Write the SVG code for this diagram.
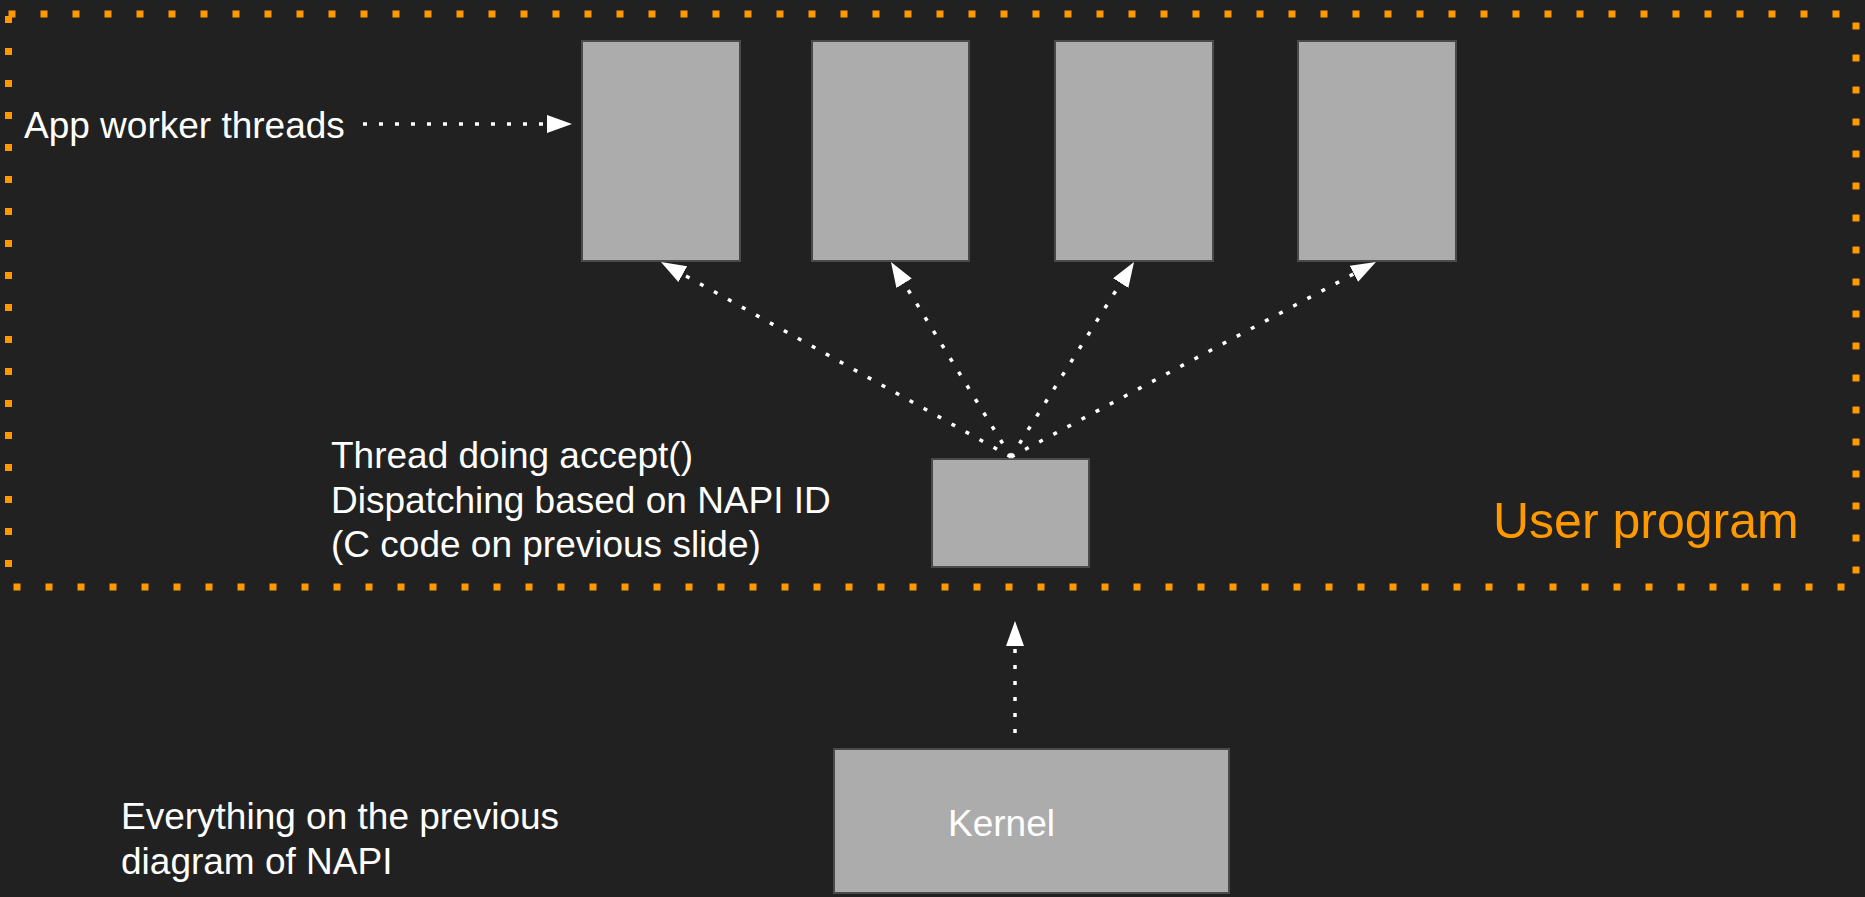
<svg xmlns="http://www.w3.org/2000/svg" width="1865" height="897" viewBox="0 0 1865 897">
<defs>
<style>
.bg{fill:#212121}
.box{fill:#acacac;stroke:#4a4a4a;stroke-width:2}
.lbl{font-family:"Liberation Sans",Arial,sans-serif;font-size:37px;fill:#ffffff}
.frame{fill:none;stroke:#ff9900;stroke-width:7;stroke-dasharray:7 25}
.conn{fill:none;stroke:#ffffff;stroke-width:3.5;stroke-dasharray:4 12}
</style>
<marker id="arr" markerUnits="userSpaceOnUse" markerWidth="26" markerHeight="20" refX="0" refY="9" orient="auto" viewBox="0 0 26 20">
<path d="M0,0 L25,9 L0,18 z" fill="#ffffff"/>
</marker>
</defs>
<rect class="bg" x="0" y="0" width="1865" height="897"/>
<g id="user-program">
<rect class="frame" x="8.5" y="14" width="1847.5" height="573"/>
<text x="1493" y="538" style="font-family:'Liberation Sans',Arial,sans-serif;font-size:50px;fill:#ff9900">User program</text>
</g>
<g id="worker1"><rect class="box" x="582" y="41" width="158" height="220"/></g>
<g id="worker2"><rect class="box" x="812" y="41" width="157" height="220"/></g>
<g id="worker3"><rect class="box" x="1055" y="41" width="158" height="220"/></g>
<g id="worker4"><rect class="box" x="1298" y="41" width="158" height="220"/></g>
<g id="dispatcher"><rect class="box" x="932" y="459" width="157" height="108"/></g>
<g id="kernel">
<rect class="box" x="834" y="749" width="395" height="144"/>
<text class="lbl" x="948" y="836">Kernel</text>
</g>
<g id="label-workers"><text class="lbl" x="24" y="138">App worker threads</text></g>
<g id="label-dispatcher">
<text class="lbl" x="331" y="468">Thread doing accept()</text>
<text class="lbl" x="331" y="513">Dispatching based on NAPI ID</text>
<text class="lbl" x="331" y="557">(C code on previous slide)</text>
</g>
<g id="label-kernel">
<text class="lbl" x="121" y="829">Everything on the previous</text>
<text class="lbl" x="121" y="874">diagram of NAPI</text>
</g>
<g id="connectors">
<line class="conn" x1="363" y1="124" x2="547" y2="124" marker-end="url(#arr)"/>
<line class="conn" x1="1011" y1="457" x2="682.8" y2="274.2" marker-end="url(#arr)"/>
<line class="conn" x1="1011" y1="457" x2="904.1" y2="283.3" marker-end="url(#arr)"/>
<line class="conn" x1="1011" y1="457" x2="1120.7" y2="283.1" marker-end="url(#arr)"/>
<line class="conn" x1="1011" y1="457" x2="1353.9" y2="273.8" marker-end="url(#arr)"/>
<line class="conn" x1="1015" y1="733" x2="1015" y2="646" marker-end="url(#arr)"/>
</g>
</svg>
